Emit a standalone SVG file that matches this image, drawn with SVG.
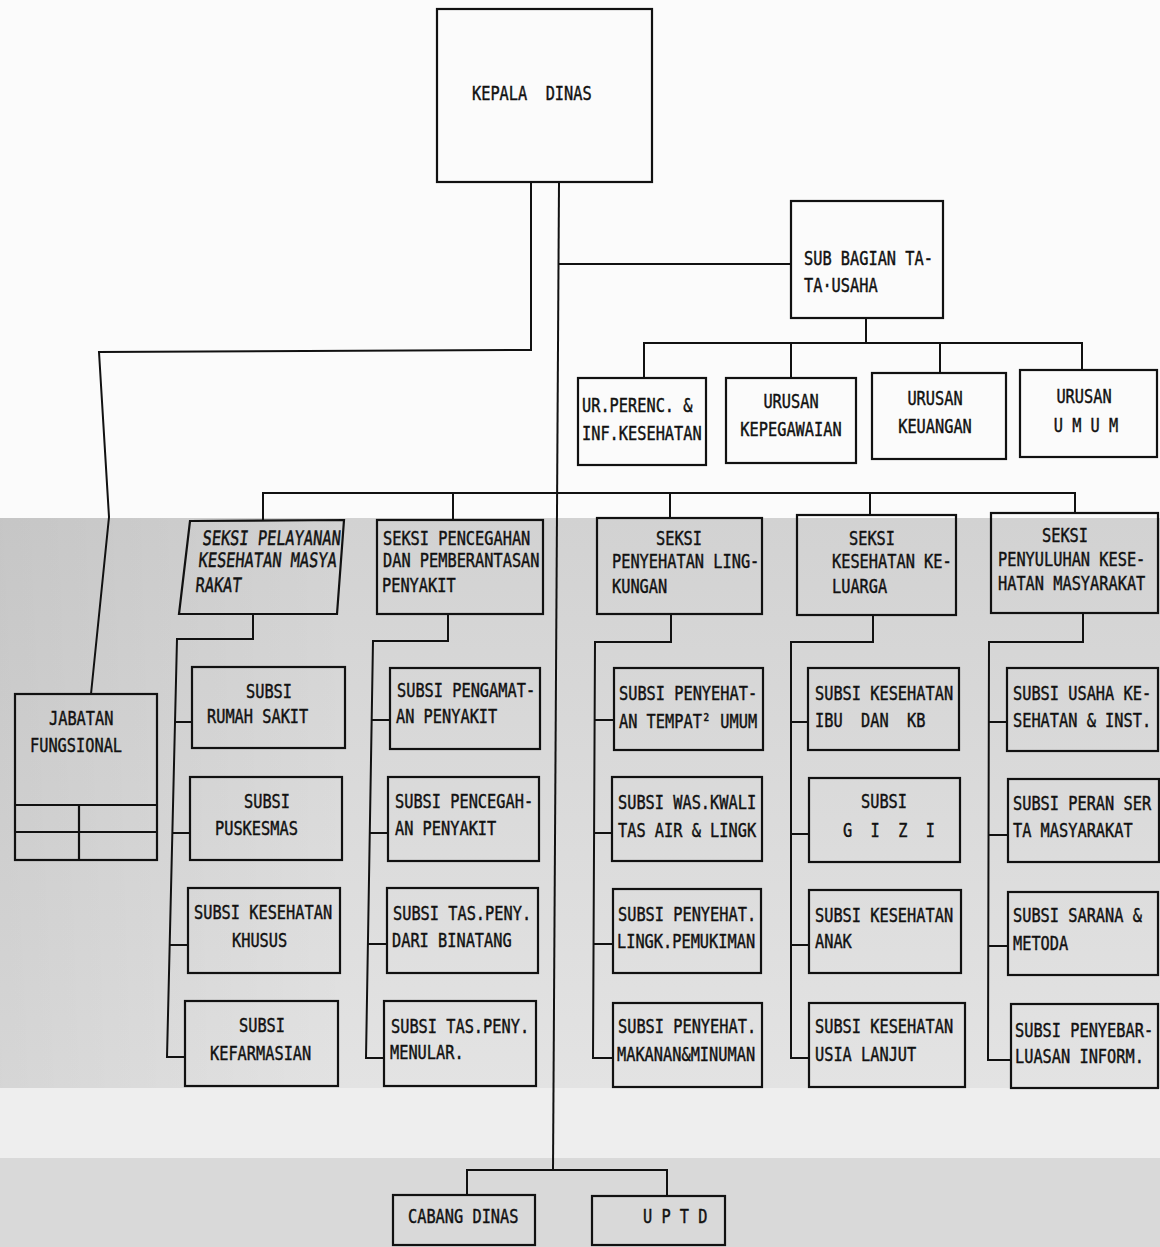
<svg xmlns="http://www.w3.org/2000/svg" width="1160" height="1247" viewBox="0 0 1160 1247">
<defs>
<linearGradient id="band" x1="0" y1="0" x2="0" y2="1">
<stop offset="0" stop-color="#d2d2d2"/>
<stop offset="1" stop-color="#e3e3e3"/>
</linearGradient>
<linearGradient id="bandL" x1="0" y1="0" x2="1" y2="0">
<stop offset="0" stop-color="#000" stop-opacity="0.06"/>
<stop offset="0.3" stop-color="#000" stop-opacity="0"/>
</linearGradient>
<style>
.b{fill:none;stroke:#111;stroke-width:2.2}
.c{fill:none;stroke:#111;stroke-width:2}
.t{font-family:"DejaVu Sans Mono","Liberation Mono",monospace;font-size:15.3px;fill:#111;stroke:#111;stroke-width:0.35;white-space:pre}
.m{text-anchor:middle}
</style>
</defs>
<rect width="1160" height="1247" fill="#fbfbfb"/>
<rect y="518" width="1160" height="570" fill="url(#band)"/>
<rect y="518" width="1160" height="570" fill="url(#bandL)"/>
<rect y="1088" width="1160" height="70" fill="#eeeeee"/>
<rect y="1158" width="1160" height="89" fill="#d9d9d9"/>

<g id="connectors">
<path class="c" d="M531,182 V350 L99,352 L109,517 L91,694"/>
<path class="c" d="M559,182 L553,1170"/>
<path class="c" d="M559,264 H791"/>
<path class="c" d="M866,318 V343 M644,378 V343 H1082 V370 M791,343 V378 M940,343 V373"/>
<path class="c" d="M263,521 V493 H1075 V513 M453,493 V520 M670,493 V518 M870,493 V515"/>
<path class="c" d="M253,614 V639 H177 L167,1057 H185 M175,722 H192 M172.4,833 H190 M169.7,945 H188"/>
<path class="c" d="M448,614 V641 H373 L366,1058 H384 M371.7,720 H390 M369.8,833 H388 M367.9,944 H387"/>
<path class="c" d="M671,614 V642 H595 L593,1058 H613 M594.6,720 H614 M594.1,833 H612 M593.5,944 H613"/>
<path class="c" d="M873,615 V642 H791 V1058 H809 M791,722 H808 M791,834 H809 M791,945 H809"/>
<path class="c" d="M1083,613 V642 H989 L988,1060 H1011 M988.8,722 H1007 M988.5,835 H1008 M988.3,946 H1008"/>
<path class="c" d="M467,1196 V1170 H667 V1196"/>
</g>

<g id="kepala-dinas">
<rect class="b" x="437" y="9" width="215" height="173"/>
<text class="t" transform="matrix(1 0 0 1.3 472 100)">KEPALA  DINAS</text>
</g>

<g id="sub-bagian-tata-usaha">
<rect class="b" x="791" y="201" width="152" height="117"/>
<text class="t" transform="matrix(1 0 0 1.3 804 265)">SUB BAGIAN TA-</text>
<text class="t" transform="matrix(1 0 0 1.3 804 292)">TA·USAHA</text>
</g>

<g id="ur-perencanaan">
<rect class="b" x="578" y="378" width="128" height="87"/>
<text class="t" transform="matrix(1 0 0 1.3 582 412)">UR.PERENC. &amp;</text>
<text class="t" transform="matrix(1 0 0 1.3 582 440)">INF.KESEHATAN</text>
</g>
<g id="urusan-kepegawaian">
<rect class="b" x="726" y="378" width="130" height="85"/>
<text class="t m" transform="matrix(1 0 0 1.3 791 408)">URUSAN</text>
<text class="t m" transform="matrix(1 0 0 1.3 791 436)">KEPEGAWAIAN</text>
</g>
<g id="urusan-keuangan">
<rect class="b" x="872" y="373" width="134" height="86"/>
<text class="t m" transform="matrix(1 0 0 1.3 935 405)">URUSAN</text>
<text class="t m" transform="matrix(1 0 0 1.3 935 433)">KEUANGAN</text>
</g>
<g id="urusan-umum">
<rect class="b" x="1020" y="370" width="137" height="87"/>
<text class="t m" transform="matrix(1 0 0 1.3 1084 403)">URUSAN</text>
<text class="t m" transform="matrix(1 0 0 1.3 1086 432)">U M U M</text>
</g>

<g id="seksi-pelayanan">
<polygon class="b" points="190,521 344,520 337,614 179,614"/>
<text class="t" transform="matrix(1 0 -0.12 1.3 202 545)">SEKSI PELAYANAN</text>
<text class="t" transform="matrix(1 0 -0.12 1.3 198 567)">KESEHATAN MASYA</text>
<text class="t" transform="matrix(1 0 -0.12 1.3 195 592)">RAKAT</text>
</g>
<g id="seksi-pencegahan">
<rect class="b" x="377" y="520" width="166" height="94"/>
<text class="t" transform="matrix(1 0 0 1.3 383 545)">SEKSI PENCEGAHAN</text>
<text class="t" transform="matrix(1 0 0 1.3 383 567)">DAN PEMBERANTASAN</text>
<text class="t" transform="matrix(1 0 0 1.3 382 592)">PENYAKIT</text>
</g>
<g id="seksi-penyehatan-lingkungan">
<rect class="b" x="597" y="518" width="165" height="96"/>
<text class="t m" transform="matrix(1 0 0 1.3 679 545)">SEKSI</text>
<text class="t" transform="matrix(1 0 0 1.3 612 568)">PENYEHATAN LING-</text>
<text class="t" transform="matrix(1 0 0 1.3 612 593)">KUNGAN</text>
</g>
<g id="seksi-kesehatan-keluarga">
<rect class="b" x="797" y="515" width="159" height="100"/>
<text class="t m" transform="matrix(1 0 0 1.3 872 545)">SEKSI</text>
<text class="t" transform="matrix(1 0 0 1.3 832 568)">KESEHATAN KE-</text>
<text class="t" transform="matrix(1 0 0 1.3 832 593)">LUARGA</text>
</g>
<g id="seksi-penyuluhan">
<rect class="b" x="991" y="513" width="167" height="100"/>
<text class="t m" transform="matrix(1 0 0 1.3 1065 542)">SEKSI</text>
<text class="t" transform="matrix(1 0 0 1.3 998 566)">PENYULUHAN KESE-</text>
<text class="t" transform="matrix(1 0 0 1.3 998 590)">HATAN MASYARAKAT</text>
</g>

<g id="jabatan-fungsional">
<rect class="b" x="15" y="694" width="142" height="166"/>
<path class="b" d="M15,805 H157 M15,832 H157 M79,805 V860"/>
<text class="t" transform="matrix(1 0 0 1.3 49 725)">JABATAN</text>
<text class="t" transform="matrix(1 0 0 1.3 30 752)">FUNGSIONAL</text>
</g>

<g id="subsi-rumah-sakit">
<rect class="b" x="192" y="667" width="153" height="81"/>
<text class="t" transform="matrix(1 0 0 1.3 246 698)">SUBSI</text>
<text class="t" transform="matrix(1 0 0 1.3 207 723)">RUMAH SAKIT</text>
</g>
<g id="subsi-puskesmas">
<rect class="b" x="190" y="777" width="152" height="83"/>
<text class="t" transform="matrix(1 0 0 1.3 244 808)">SUBSI</text>
<text class="t" transform="matrix(1 0 0 1.3 215 835)">PUSKESMAS</text>
</g>
<g id="subsi-kesehatan-khusus">
<rect class="b" x="188" y="888" width="152" height="85"/>
<text class="t" transform="matrix(1 0 0 1.3 194 919)">SUBSI KESEHATAN</text>
<text class="t" transform="matrix(1 0 0 1.3 232 947)">KHUSUS</text>
</g>
<g id="subsi-kefarmasian">
<rect class="b" x="185" y="1001" width="153" height="85"/>
<text class="t" transform="matrix(1 0 0 1.3 239 1032)">SUBSI</text>
<text class="t" transform="matrix(1 0 0 1.3 210 1060)">KEFARMASIAN</text>
</g>

<g id="subsi-pengamatan">
<rect class="b" x="390" y="668" width="150" height="81"/>
<text class="t" transform="matrix(1 0 0 1.3 397 697)">SUBSI PENGAMAT-</text>
<text class="t" transform="matrix(1 0 0 1.3 396 723)">AN PENYAKIT</text>
</g>
<g id="subsi-pencegahan">
<rect class="b" x="388" y="777" width="151" height="84"/>
<text class="t" transform="matrix(1 0 0 1.3 395 808)">SUBSI PENCEGAH-</text>
<text class="t" transform="matrix(1 0 0 1.3 395 835)">AN PENYAKIT</text>
</g>
<g id="subsi-tas-binatang">
<rect class="b" x="387" y="888" width="151" height="85"/>
<text class="t" transform="matrix(1 0 0 1.3 393 920)">SUBSI TAS.PENY.</text>
<text class="t" transform="matrix(1 0 0 1.3 392 947)">DARI BINATANG</text>
</g>
<g id="subsi-tas-menular">
<rect class="b" x="384" y="1001" width="152" height="85"/>
<text class="t" transform="matrix(1 0 0 1.3 391 1033)">SUBSI TAS.PENY.</text>
<text class="t" transform="matrix(1 0 0 1.3 390 1059)">MENULAR.</text>
</g>

<g id="subsi-tempat-umum">
<rect class="b" x="614" y="668" width="149" height="82"/>
<text class="t" transform="matrix(1 0 0 1.3 619 700)">SUBSI PENYEHAT-</text>
<text class="t" transform="matrix(1 0 0 1.3 619 728)">AN TEMPAT² UMUM</text>
</g>
<g id="subsi-kualitas-air">
<rect class="b" x="612" y="777" width="150" height="84"/>
<text class="t" transform="matrix(1 0 0 1.3 618 809)">SUBSI WAS.KWALI</text>
<text class="t" transform="matrix(1 0 0 1.3 618 837)">TAS AIR &amp; LINGK</text>
</g>
<g id="subsi-pemukiman">
<rect class="b" x="613" y="889" width="148" height="84"/>
<text class="t" transform="matrix(1 0 0 1.3 618 921)">SUBSI PENYEHAT.</text>
<text class="t" transform="matrix(1 0 0 1.3 617 948)">LINGK.PEMUKIMAN</text>
</g>
<g id="subsi-makanan">
<rect class="b" x="613" y="1003" width="149" height="84"/>
<text class="t" transform="matrix(1 0 0 1.3 618 1033)">SUBSI PENYEHAT.</text>
<text class="t" transform="matrix(1 0 0 1.3 617 1061)">MAKANAN&amp;MINUMAN</text>
</g>

<g id="subsi-ibu-kb">
<rect class="b" x="808" y="668" width="151" height="82"/>
<text class="t" transform="matrix(1 0 0 1.3 815 700)">SUBSI KESEHATAN</text>
<text class="t" transform="matrix(1 0 0 1.3 815 727)">IBU  DAN  KB</text>
</g>
<g id="subsi-gizi">
<rect class="b" x="809" y="778" width="151" height="84"/>
<text class="t m" transform="matrix(1 0 0 1.3 884 808)">SUBSI</text>
<text class="t m" transform="matrix(1 0 0 1.3 889 837)">G  I  Z  I</text>
</g>
<g id="subsi-anak">
<rect class="b" x="809" y="890" width="152" height="83"/>
<text class="t" transform="matrix(1 0 0 1.3 815 922)">SUBSI KESEHATAN</text>
<text class="t" transform="matrix(1 0 0 1.3 815 948)">ANAK</text>
</g>
<g id="subsi-usia-lanjut">
<rect class="b" x="809" y="1003" width="156" height="84"/>
<text class="t" transform="matrix(1 0 0 1.3 815 1033)">SUBSI KESEHATAN</text>
<text class="t" transform="matrix(1 0 0 1.3 815 1061)">USIA LANJUT</text>
</g>

<g id="subsi-usaha-kesehatan">
<rect class="b" x="1007" y="668" width="151" height="83"/>
<text class="t" transform="matrix(1 0 0 1.3 1013 700)">SUBSI USAHA KE-</text>
<text class="t" transform="matrix(1 0 0 1.3 1013 727)">SEHATAN &amp; INST.</text>
</g>
<g id="subsi-peran-serta">
<rect class="b" x="1008" y="779" width="151" height="83"/>
<text class="t" transform="matrix(1 0 0 1.3 1013 810)">SUBSI PERAN SER</text>
<text class="t" transform="matrix(1 0 0 1.3 1013 837)">TA MASYARAKAT</text>
</g>
<g id="subsi-sarana-metoda">
<rect class="b" x="1008" y="892" width="150" height="83"/>
<text class="t" transform="matrix(1 0 0 1.3 1013 922)">SUBSI SARANA &amp;</text>
<text class="t" transform="matrix(1 0 0 1.3 1013 950)">METODA</text>
</g>
<g id="subsi-penyebarluasan">
<rect class="b" x="1011" y="1004" width="147" height="84"/>
<text class="t" transform="matrix(1 0 0 1.3 1015 1037)">SUBSI PENYEBAR-</text>
<text class="t" transform="matrix(1 0 0 1.3 1015 1063)">LUASAN INFORM.</text>
</g>

<g id="cabang-dinas">
<rect class="b" x="393" y="1195" width="142" height="50"/>
<text class="t" transform="matrix(1 0 0 1.3 408 1223)">CABANG DINAS</text>
</g>
<g id="uptd">
<rect class="b" x="592" y="1196" width="133" height="49"/>
<text class="t" transform="matrix(1 0 0 1.3 643 1223)">U P T D</text>
</g>
</svg>
